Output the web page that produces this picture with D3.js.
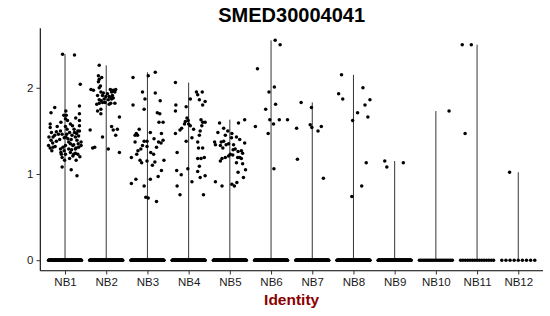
<!DOCTYPE html>
<html>
<head>
<meta charset="utf-8">
<script src="https://cdn.jsdelivr.net/npm/d3@7"></script>
<style>
  html, body { margin: 0; padding: 0; background: #fff; }
  svg { display: block; font-family: "Liberation Sans", Arial, Helvetica, sans-serif; }
</style>
</head>
<body>
<svg id="chart" width="550" height="316"></svg>
<script>
// ---------------- DATA ----------------
const title = "SMED30004041";
const xTitle = "Identity";
const categories = ["NB1","NB2","NB3","NB4","NB5","NB6","NB7","NB8","NB9","NB10","NB11","NB12"];
const yTicks = [0, 1, 2];

// number of cells with zero expression in each identity
const zeroCounts = [130, 130, 130, 130, 130, 130, 130, 130, 130, 22, 15, 9];

// non-zero expression values per identity, as [value, jitter (fraction of category step)]
const nb1 = [[2.39,-0.06],[2.38,0.23],[2.04,0.37],[1.71,-0.34],[1.77,-0.25],[1.73,0.02],[1.79,0.35],[1.70,0.35],
  [1.58,-0.36],[1.54,-0.36],[1.55,-0.19],[1.46,-0.16],[1.50,-0.11],[1.46,-0.07],[1.45,-0.25],[1.49,-0.21],
  [1.43,-0.39],[1.39,-0.34],[1.43,-0.29],[1.68,-0.03],[1.64,0.01],[1.68,0.03],[1.62,0.06],[1.58,0.13],
  [1.56,0.18],[1.56,0.35],[1.62,0.35],[1.50,0.35],[1.50,0.31],[1.48,0.23],[1.48,0.11],[1.45,0.17],
  [1.41,0.07],[1.43,0.02],[1.43,0.25],[1.39,0.29],[1.37,0.39],[1.35,0.13],[1.33,0.19],[1.33,0.01],
  [1.31,-0.05],[1.33,-0.40],[1.30,-0.36],[1.31,-0.29],[1.29,-0.11],[1.29,0.09],[1.29,0.25],[1.31,0.33],
  [1.33,0.39],[1.25,-0.10],[1.23,0.01],[1.25,0.13],[1.23,0.21],[1.23,0.31],[1.27,-0.32],[1.19,-0.07],
  [1.23,-0.09],[1.16,-0.01],[1.08,-0.07],[1.05,0.15],[1.16,0.27],[0.98,0.29],
  [1.60,-0.10],[1.52,0.05],[1.47,0.28],[1.40,-0.13],[1.37,0.09],[1.36,-0.30],[1.34,0.21],[1.42,-0.02],
  [1.52,0.22],[1.28,0.16],[1.27,-0.02],[1.21,0.19],[1.35,0.32],[1.44,0.33],[1.65,0.26],[1.38,-0.21],
  [1.48,-0.33],[1.30,0.27],[1.24,0.25],[1.18,0.11],[1.40,0.15],[1.46,0.04],[1.55,0.01],[1.32,-0.24],[1.20,0.36]];
const nb2 = [[2.26,-0.17],[2.14,-0.19],[2.10,-0.17],[2.12,-0.11],[2.07,-0.19],[1.98,-0.37],[1.97,-0.31],[2.00,-0.17],
  [1.95,-0.13],[1.91,-0.21],[1.91,-0.09],[1.98,0.10],[1.97,0.17],[1.98,0.23],[1.95,0.13],[1.95,0.21],
  [1.93,0.03],[1.90,-0.01],[1.90,0.07],[1.91,0.15],[1.87,-0.05],[1.86,0.05],[1.87,0.13],[1.86,-0.17],
  [1.81,-0.23],[1.82,-0.17],[1.83,-0.09],[1.83,-0.03],[1.81,0.07],[1.82,0.11],[1.82,0.21],[1.73,-0.21],
  [1.75,-0.13],[1.70,-0.13],[1.66,0.32],[1.51,-0.39],[1.55,0.13],[1.51,0.17],[1.52,0.27],[1.45,0.23],
  [1.43,-0.09],[1.30,-0.33],[1.31,-0.28],[1.29,0.05],[1.25,0.32],
  [2.02,-0.14],[1.94,-0.07],[1.89,0.10],[1.96,0.19],[1.85,-0.12],[1.88,0.17]];
const nb3 = [[2.12,-0.35],[2.14,0.02],[2.18,0.19],[1.95,-0.12],[1.94,0.19],[1.87,-0.06],[1.80,-0.35],[1.75,-0.08],
  [1.85,0.31],[1.71,0.24],[1.70,0.30],[1.60,0.28],[1.60,0.38],[1.47,-0.27],[1.45,-0.30],[1.45,-0.24],
  [1.48,0.07],[1.47,0.34],[1.38,-0.08],[1.38,-0.01],[1.37,-0.30],[1.37,0.27],[1.36,0.33],[1.39,0.38],
  [1.33,-0.12],[1.29,-0.16],[1.27,-0.23],[1.32,-0.01],[1.23,-0.26],[1.19,-0.39],[1.25,0.08],[1.23,0.15],
  [1.16,-0.18],[1.13,-0.14],[1.15,-0.01],[1.14,0.18],[1.10,0.12],[1.16,0.40],[1.04,0.34],[0.94,-0.28],
  [0.89,-0.39],[0.94,0.07],[0.97,0.26],[0.86,-0.08],[0.73,-0.04],[0.72,0.02],[0.68,0.22],
  [1.52,-0.20],[1.41,0.16],[1.31,0.22]];
const nb4 = [[2.06,-0.32],[1.95,0.19],[1.92,0.22],[1.95,0.33],[1.84,0.40],[1.86,0.26],[1.80,0.34],[1.87,0.04],
  [1.80,-0.31],[1.73,-0.32],[1.78,-0.06],[1.65,-0.04],[1.61,-0.08],[1.62,-0.01],[1.58,-0.10],[1.58,0.00],
  [1.56,0.04],[1.53,-0.17],[1.51,-0.21],[1.52,0.12],[1.63,0.30],[1.60,0.34],[1.60,0.40],[1.56,0.32],
  [1.50,0.28],[1.47,-0.32],[1.45,0.26],[1.42,0.08],[1.38,-0.06],[1.37,0.22],[1.30,0.24],[1.30,0.34],
  [1.25,-0.28],[1.18,0.22],[1.18,0.30],[1.19,0.38],[1.09,0.26],[1.06,-0.02],[1.04,-0.29],[0.99,-0.18],
  [1.03,0.22],[0.96,0.28],[0.98,0.40],[0.91,0.08],[0.86,-0.28],[0.76,-0.21],[0.76,0.36]];
const nb5 = [[1.63,0.36],[1.59,0.21],[1.59,-0.25],[1.53,-0.15],[1.48,-0.29],[1.45,-0.11],[1.47,0.05],[1.43,0.16],
  [1.42,0.04],[1.37,-0.37],[1.37,-0.21],[1.38,-0.15],[1.36,0.36],[1.34,-0.35],[1.33,-0.23],[1.34,-0.09],
  [1.35,-0.03],[1.34,0.09],[1.28,0.08],[1.29,0.13],[1.27,0.28],[1.24,0.31],[1.23,0.01],[1.22,0.07],
  [1.21,-0.03],[1.19,-0.11],[1.18,-0.19],[1.15,-0.23],[1.19,0.19],[1.19,0.24],[1.18,0.28],[1.13,0.16],
  [1.12,0.31],[1.02,0.20],[1.05,0.38],[0.96,0.33],[0.91,-0.35],[0.86,-0.19],[0.88,0.05],[0.86,0.11],
  [0.90,0.17],[1.50,-0.05],[1.40,0.24],[1.30,-0.17],[1.26,0.20]];
const nb6 = [[2.55,0.10],[2.50,0.22],[2.22,-0.33],[2.01,0.08],[1.95,-0.05],[1.81,0.11],[1.75,-0.13],[1.63,-0.03],
  [1.63,0.20],[1.63,0.40],[1.58,0.06],[1.55,-0.38],[1.47,-0.07],[1.06,0.07]];
const nb7 = [[1.83,-0.27],[1.77,-0.02],[1.53,-0.38],[1.57,-0.05],[1.54,-0.01],[1.50,0.14],[1.55,0.22],[1.17,-0.36],[0.95,0.27]];
const nb8 = [[2.15,-0.29],[1.93,-0.36],[1.87,-0.26],[2.00,0.23],[1.86,0.40],[1.80,0.28],[1.71,0.10],[1.66,0.35],
  [1.62,-0.02],[1.13,0.31],[0.86,0.20],[0.74,-0.04]];
const nb9 = [[1.15,-0.24],[1.08,-0.19],[1.13,0.21]];
const nb10 = [[1.73,0.32]];
const nb11 = [[2.50,-0.36],[2.50,-0.14],[1.47,-0.29]];
const nb12 = [[1.02,-0.21]];
const nonZero = [nb1, nb2, nb3, nb4, nb5, nb6, nb7, nb8, nb9, nb10, nb11, nb12];

// ---------------- LAYOUT ----------------
const svg = d3.select("#chart");
const padL = 40.3, padR = 543, padT = 28.3, padB = 270.7;
const jitterWidth = 0.4;

const x = d3.scaleLinear().domain([0.4, categories.length + 0.6]).range([padL, padR]);
const y = d3.scaleLinear().domain([-0.122, 2.69]).range([padB, padT]);
const xc = i => x(i + 1);

// build point table
const points = [];
categories.forEach((c, i) => {
  const n = zeroCounts[i];
  for (let k = 0; k < n; k++) {
    const j = n > 1 ? -jitterWidth + 2 * jitterWidth * k / (n - 1) : 0;
    points.push({ cat: i, value: 0, jit: j });
  }
  nonZero[i].forEach(([v, j]) => points.push({ cat: i, value: v, jit: j }));
});

// violins (trimmed; essentially a line from 0 to the group max)
const g = svg.append("g");
g.selectAll("line.violin")
  .data(categories)
  .join("line")
  .attr("class", "violin")
  .attr("x1", (d, i) => xc(i)).attr("x2", (d, i) => xc(i))
  .attr("y1", y(0))
  .attr("y2", (d, i) => y(d3.max(nonZero[i], p => p[0])))
  .attr("stroke", "#000")
  .attr("stroke-width", 0.8);

// jittered points
g.selectAll("circle.pt")
  .data(points)
  .join("circle")
  .attr("class", "pt")
  .attr("cx", d => xc(d.cat) + d.jit * (x(2) - x(1)))
  .attr("cy", d => y(d.value))
  .attr("r", 1.75)
  .attr("fill", "#000");

// axes
const yAxis = d3.axisLeft(y).tickValues(yTicks).tickFormat(d3.format("d")).tickSize(3.8).tickPadding(3);
const yG = svg.append("g").attr("transform", `translate(${padL},0)`).call(yAxis);
yG.select(".domain").attr("d", `M0,${padT}V${padB}`).attr("stroke", "#000").attr("stroke-width", 1.1);

const xAxis = d3.axisBottom(x).tickValues(d3.range(1, categories.length + 1))
  .tickFormat(d => categories[d - 1]).tickSize(3.8).tickPadding(3.5);
const xG = svg.append("g").attr("transform", `translate(0,${padB})`).call(xAxis);
xG.select(".domain").attr("d", `M${padL},0H${padR}`).attr("stroke", "#000").attr("stroke-width", 1.1);

[yG, xG].forEach(a => {
  a.selectAll(".tick line").attr("stroke", "#333").attr("stroke-width", 1);
  a.selectAll(".tick text").attr("fill", "#1a1a1a").style("font-size", "11.5px")
    .style("font-family", "'Liberation Sans', Arial, sans-serif");
});

// titles
svg.append("text")
  .attr("x", (padL + padR) / 2).attr("y", 22)
  .attr("text-anchor", "middle")
  .style("font-size", "20px").style("font-weight", "bold").attr("fill", "#000")
  .text(title);

svg.append("text")
  .attr("x", (padL + padR) / 2).attr("y", 305)
  .attr("text-anchor", "middle")
  .style("font-size", "15.5px").style("font-weight", "bold").attr("fill", "#8B0000")
  .text(xTitle);
</script>
</body>
</html>
